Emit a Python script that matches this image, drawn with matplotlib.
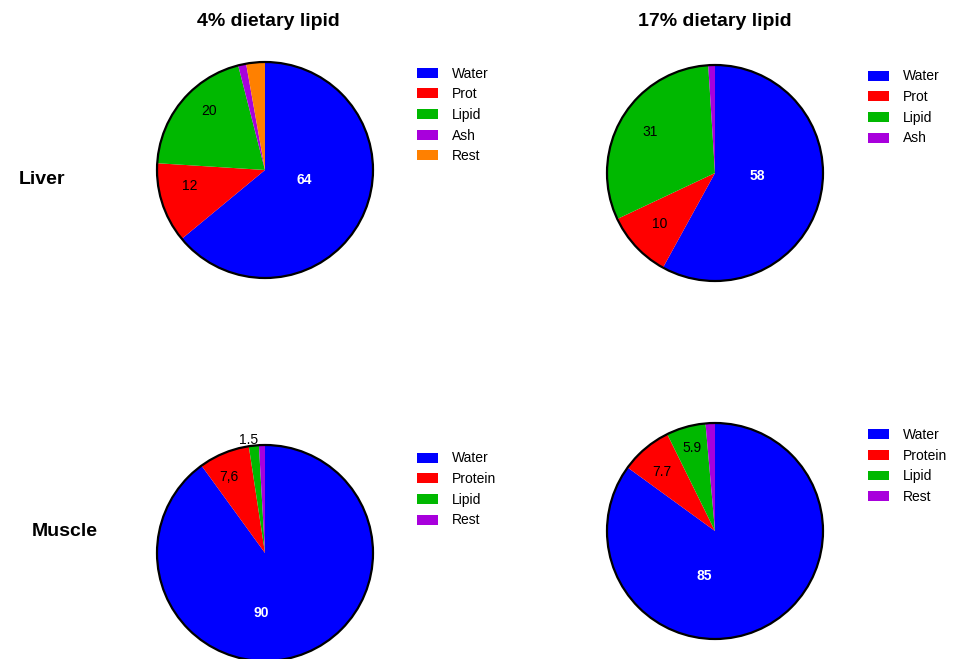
import matplotlib
matplotlib.use('Agg')
import matplotlib.pyplot as plt
from matplotlib.patches import Circle, Patch

plt.rcParams['font.family'] = ['Liberation Sans', 'DejaVu Sans']

# ---------------- data ----------------
col_titles = ['4% dietary lipid', '17% dietary lipid']
row_titles = ['Liver', 'Muscle']

liver4_labels = ['Water', 'Prot', 'Lipid', 'Ash', 'Rest']
liver4_values = [64, 12, 20, 1.2, 2.8]
liver4_text = ['64', '12', '20']

liver17_labels = ['Water', 'Prot', 'Lipid', 'Ash']
liver17_values = [58, 10, 31, 1.0]
liver17_text = ['58', '10', '31']

muscle4_labels = ['Water', 'Protein', 'Lipid', 'Rest']
muscle4_values = [90, 7.6, 1.5, 0.9]
muscle4_text = ['90', '7,6', '1.5']

muscle17_labels = ['Water', 'Protein', 'Lipid', 'Rest']
muscle17_values = [85, 7.7, 5.9, 1.4]
muscle17_text = ['85', '7.7', '5.9']

# ---------------- style / layout ----------------
W, H, DPI = 958, 659, 100
palette = ['#0000FF', '#FF0000', '#00B800', '#A800DC', '#FF8000']

# centre (px), radius (px), label offsets (in radius units), legend top-left (px)
layout = [
    dict(labels=liver4_labels, values=liver4_values, text=liver4_text,
         c=(265, 170), r=108,
         off=[(0.36, -0.09), (-0.70, -0.145), (-0.52, 0.55)],
         leg=(417, 73)),
    dict(labels=liver17_labels, values=liver17_values, text=liver17_text,
         c=(715, 173), r=108,
         off=[(0.39, -0.03), (-0.51, -0.47), (-0.60, 0.38)],
         leg=(868, 76)),
    dict(labels=muscle4_labels, values=muscle4_values, text=muscle4_text,
         c=(265, 553), r=108,
         off=[(-0.037, -0.555), (-0.33, 0.70), (-0.155, 1.05)],
         leg=(417, 458)),
    dict(labels=muscle17_labels, values=muscle17_values, text=muscle17_text,
         c=(715, 531), r=108,
         off=[(-0.10, -0.42), (-0.49, 0.55), (-0.21, 0.77)],
         leg=(868, 434.5)),
]

fig = plt.figure(figsize=(W / DPI, H / DPI), dpi=DPI)
fig.patch.set_facecolor('white')

LIM = 1.06
LEG_FS = 10
for p in layout:
    cx, cy = p['c']
    r = p['r']
    half = r * LIM
    ax = fig.add_axes([(cx - half) / W, (H - cy - half) / H, 2 * half / W, 2 * half / H])
    cols = palette[:len(p['values'])]
    wedges, _ = ax.pie(p['values'], colors=cols, startangle=90, counterclock=False,
                       wedgeprops=dict(linewidth=0))
    ax.add_patch(Circle((0, 0), 1.0, fill=False, edgecolor='black', linewidth=1.6, zorder=5))
    ax.set_xlim(-LIM, LIM)
    ax.set_ylim(-LIM, LIM)
    ax.set_axis_off()
    for i, (txt, (dx, dy)) in enumerate(zip(p['text'], p['off'])):
        if i == 0:
            ax.text(dx, dy, txt, color='white', fontsize=10, fontweight='bold',
                    ha='center', va='center', zorder=6, clip_on=False)
        else:
            ax.text(dx, dy, txt, color='black', fontsize=10,
                    ha='center', va='center', zorder=6, clip_on=False)

    handles = [Patch(facecolor=c, edgecolor='none', label=l) for c, l in zip(cols, p['labels'])]
    lx, ly = p['leg']
    fs_px = LEG_FS * DPI / 72.0
    fig.legend(handles=handles, loc='upper left',
               bbox_to_anchor=(lx / W, (H - (ly - 6.5)) / H),
               frameon=False, fontsize=LEG_FS, borderpad=0, borderaxespad=0,
               handlelength=21 / fs_px, handleheight=10 / fs_px,
               handletextpad=14 / fs_px, labelspacing=0.48)

# titles
fig.text(268 / W, 1 - 21 / H, col_titles[0], fontsize=14, fontweight='bold',
         ha='center', va='center')
fig.text(715 / W, 1 - 21 / H, col_titles[1], fontsize=14, fontweight='bold',
         ha='center', va='center')
fig.text(42 / W, 1 - 180 / H, row_titles[0], fontsize=14, fontweight='bold',
         ha='center', va='center')
fig.text(65 / W, 1 - 531 / H, row_titles[1], fontsize=14, fontweight='bold',
         ha='center', va='center')

fig.savefig('out.png', dpi=DPI, facecolor='white')
